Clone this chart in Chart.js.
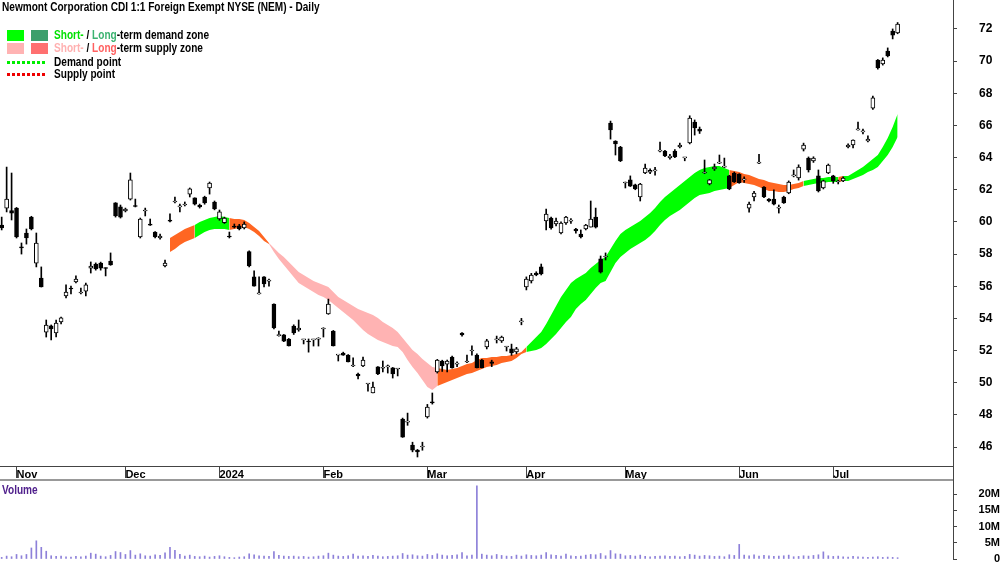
<!DOCTYPE html>
<html>
<head>
<meta charset="utf-8">
<script src="https://cdn.jsdelivr.net/npm/chart.js@4/dist/chart.umd.min.js"></script>
<style>
  body { margin: 0; background: #fff; }
  #wrap { position: relative; width: 1000px; height: 562px; overflow: hidden;
          font-family: 'Liberation Sans Narrow', 'Arial Narrow', 'Liberation Sans', Arial, sans-serif;
          font-weight: bold; font-size: 12px; line-height: 12px; color: #000; }
  #main { position: absolute; left: 0; top: 0; }
  #vol { position: absolute; left: 0; top: 480px; }
  .abs { position: absolute; white-space: nowrap; }
  .nar { transform: scaleX(0.84); transform-origin: 0 0; }
  .sw { position: absolute; width: 17px; height: 11px; }
  .dots { position: absolute; left: 7px; width: 38px; height: 3px; }
</style>
</head>
<body>
<div id="wrap">
  <canvas id="main" width="1000" height="480"></canvas>
  <canvas id="vol" width="1000" height="82"></canvas>

  <div class="abs nar" style="left:2px; top:1px;">Newmont Corporation CDI 1:1 Foreign Exempt NYSE (NEM) - Daily</div>

  <div class="sw" style="left:7px; top:30px; background:#00ff00;"></div>
  <div class="sw" style="left:31px; top:30px; background:#3c9f6c;"></div>
  <div class="abs nar" style="left:54px; top:29px;"><span style="color:#00e000">Short-</span> / <span style="color:#3cb371">Long</span>-term demand zone</div>

  <div class="sw" style="left:7px; top:43px; background:#ffb3b3;"></div>
  <div class="sw" style="left:31px; top:43px; background:#ff7070;"></div>
  <div class="abs nar" style="left:54px; top:42px;"><span style="color:#ffb0b0">Short-</span> / <span style="color:#ff6060">Long</span>-term supply zone</div>

  <div class="dots" style="top:61px; background:repeating-linear-gradient(90deg,#00ee00 0 3px,transparent 3px 5px);"></div>
  <div class="abs nar" style="left:54px; top:56px;">Demand point</div>
  <div class="dots" style="top:73px; background:repeating-linear-gradient(90deg,#ee0000 0 3px,transparent 3px 5px);"></div>
  <div class="abs nar" style="left:54px; top:68px;">Supply point</div>

  <div class="abs" style="left:0; top:479px; width:953px; height:0; border-top:2px solid #999;"></div>
  <div class="abs" style="left:953px; top:466px; width:1px; height:16px; background:#444;"></div>
  <div class="abs nar" style="left:2px; top:484px; color:#50208c;">Volume</div>
</div>

<script>
// daily candles, first bar 27 Oct 2023
const open = [
  59.81, 60.86, 60.70, 60.86, 58.40, 59.31, 60.30, 57.44, 56.51, 53.15,
  53.53, 53.09, 53.78, 55.39, 55.89, 56.26, 55.58, 55.70, 57.13, 57.38,
  57.44, 57.13, 57.57, 61.18, 60.93, 60.68, 61.42, 60.99, 59.06, 60.68,
  59.82, 59.37, 59.00, 57.26, 60.06, 61.24, 60.93, 61.05, 61.73, 61.49,
  61.05, 61.55, 62.11, 61.24, 60.18, 59.96, 59.12, 59.69, 59.75, 59.62,
  58.15, 56.58, 55.52, 56.58, 56.32, 54.89, 52.92, 52.97, 52.72, 53.52,
  53.28, 52.66, 52.55, 52.66, 52.70, 53.34, 54.27, 53.21, 51.72, 51.85,
  51.72, 51.04, 50.54, 51.04, 49.92, 49.36, 50.98, 50.90, 50.98, 50.92,
  50.85, 47.74, 47.55, 46.12, 45.81, 46.00, 47.87, 48.80, 50.67, 51.35,
  51.16, 51.60, 51.16, 53.09, 51.29, 51.97, 51.72, 51.41, 52.22, 51.30,
  52.66, 52.60, 52.22, 52.10, 51.91, 53.78, 55.95, 56.33, 56.82, 57.20,
  60.06, 60.24, 59.87, 59.31, 59.93, 60.05, 59.56, 59.25, 59.56, 59.68,
  60.30, 57.70, 57.82, 66.15, 65.03, 64.66, 62.42, 62.61, 62.30, 61.55,
  63.04, 63.10, 63.17, 64.40, 64.41, 63.98, 64.41, 64.66, 63.98, 64.91,
  66.21, 65.78, 63.04, 62.36, 63.29, 63.66, 63.41, 62.86, 63.04, 62.98,
  62.61, 60.86, 61.55, 63.66, 62.17, 61.42, 61.42, 60.86, 61.55, 61.80,
  62.86, 62.73, 64.53, 63.97, 63.79, 62.86, 62.11, 63.04, 62.86, 62.48,
  62.55, 64.66, 64.78, 65.72, 65.60, 65.03, 67.08, 70.07, 69.82, 70.63,
  71.87, 71.75
];
const high = [
  60.30, 63.41, 63.04, 60.90, 58.69, 59.56, 60.35, 59.31, 57.20, 53.90,
  53.59, 53.90, 54.08, 56.08, 56.01, 56.64, 55.89, 56.20, 57.51, 57.45,
  57.50, 57.15, 58.07, 61.20, 61.05, 60.86, 63.04, 61.42, 60.24, 60.86,
  60.18, 59.40, 59.25, 57.63, 60.50, 61.55, 61.11, 61.24, 62.11, 61.50,
  61.11, 61.60, 62.48, 61.30, 60.74, 60.30, 59.37, 59.87, 59.85, 60.00,
  58.20, 56.95, 56.58, 56.60, 56.45, 54.90, 53.21, 53.00, 52.75, 53.60,
  53.90, 52.70, 52.72, 52.70, 52.80, 53.42, 55.20, 53.25, 51.75, 51.90,
  51.75, 51.54, 50.60, 51.60, 49.95, 50.04, 51.00, 51.35, 51.10, 50.95,
  50.88, 47.80, 48.11, 46.30, 45.85, 46.30, 48.65, 49.36, 51.45, 51.40,
  51.41, 51.65, 51.30, 53.12, 51.72, 52.30, 51.80, 51.45, 52.70, 51.40,
  52.90, 52.90, 52.25, 52.40, 52.20, 54.00, 56.58, 56.80, 56.90, 57.38,
  60.80, 60.30, 60.24, 60.00, 60.35, 60.20, 59.60, 59.50, 59.85, 61.30,
  60.86, 57.88, 58.07, 66.27, 65.05, 64.70, 62.48, 62.86, 62.35, 62.40,
  63.60, 63.30, 63.40, 64.97, 64.45, 64.20, 64.50, 64.90, 64.00, 66.60,
  66.34, 65.90, 63.85, 62.65, 63.60, 64.16, 63.97, 62.90, 63.10, 63.00,
  62.80, 61.24, 61.90, 64.20, 62.20, 61.45, 62.00, 61.05, 61.60, 62.55,
  63.23, 63.55, 64.90, 64.04, 64.05, 63.23, 62.60, 63.60, 62.90, 62.60,
  62.80, 64.85, 65.10, 66.21, 65.78, 65.35, 67.83, 70.10, 70.20, 70.82,
  72.00, 72.40
];
const low = [
  59.50, 60.62, 60.12, 59.00, 58.00, 58.62, 59.50, 57.20, 55.95, 52.84,
  52.66, 52.84, 53.65, 55.27, 55.52, 56.20, 55.52, 55.39, 56.82, 57.00,
  57.00, 56.64, 57.30, 60.30, 60.24, 60.62, 61.36, 60.93, 59.00, 60.37,
  59.78, 59.00, 58.93, 57.20, 60.00, 61.18, 60.62, 60.99, 61.55, 61.05,
  60.86, 61.10, 61.73, 60.75, 60.10, 59.90, 59.00, 59.62, 59.50, 59.56,
  57.20, 56.00, 55.50, 55.95, 56.00, 53.35, 52.90, 52.55, 52.28, 53.00,
  53.20, 52.41, 51.90, 52.28, 52.28, 52.84, 54.25, 52.28, 51.35, 51.70,
  51.29, 51.00, 50.23, 51.00, 49.48, 49.36, 50.50, 50.67, 50.60, 50.29,
  50.42, 46.60, 47.35, 45.70, 45.38, 45.80, 47.80, 48.67, 50.60, 50.70,
  50.67, 50.90, 51.00, 52.90, 51.25, 51.72, 50.92, 50.92, 52.10, 51.00,
  52.47, 52.50, 51.97, 51.70, 51.80, 53.60, 55.77, 56.20, 56.65, 56.70,
  59.50, 59.55, 59.75, 59.25, 59.85, 59.90, 59.30, 59.00, 59.50, 59.68,
  59.62, 56.82, 57.63, 65.15, 64.16, 63.75, 62.11, 62.20, 62.00, 61.30,
  63.00, 63.00, 62.90, 64.35, 64.05, 63.90, 64.00, 64.60, 63.80, 64.85,
  65.40, 65.50, 63.00, 62.30, 63.20, 63.62, 63.38, 62.00, 62.45, 62.40,
  62.45, 60.60, 61.30, 63.62, 61.50, 61.25, 61.05, 60.55, 61.15, 61.75,
  62.80, 62.60, 64.41, 63.10, 63.70, 61.86, 62.05, 63.00, 62.40, 62.36,
  62.50, 64.60, 64.60, 65.70, 65.47, 64.97, 67.00, 69.50, 69.75, 70.26,
  71.38, 71.70
];
const close = [
  59.62, 61.42, 60.55, 59.06, 58.38, 59.00, 59.56, 58.69, 55.95, 53.59,
  53.34, 53.71, 54.03, 55.64, 55.83, 56.45, 55.58, 56.08, 57.26, 57.07,
  57.13, 57.10, 57.32, 60.37, 60.30, 60.80, 62.61, 60.96, 60.18, 60.68,
  59.80, 59.06, 59.12, 57.44, 60.05, 61.24, 60.93, 61.05, 62.05, 61.11,
  60.93, 61.18, 62.42, 60.80, 60.62, 60.24, 59.06, 59.68, 59.56, 59.87,
  57.26, 56.01, 55.52, 56.14, 56.32, 53.40, 53.00, 52.59, 52.28, 53.09,
  53.40, 52.66, 52.53, 52.66, 52.78, 53.40, 54.89, 52.28, 51.72, 51.72,
  51.29, 51.04, 50.42, 51.41, 49.92, 49.73, 50.54, 50.90, 50.98, 50.54,
  50.85, 46.62, 47.55, 45.81, 45.69, 46.00, 48.49, 48.75, 51.41, 51.04,
  51.35, 50.92, 51.16, 52.97, 51.29, 51.97, 50.92, 50.92, 52.60, 51.20,
  52.66, 52.84, 52.22, 51.85, 52.10, 53.78, 56.45, 56.70, 56.70, 56.76,
  60.49, 59.62, 60.05, 59.93, 60.30, 60.05, 59.44, 59.06, 59.81, 60.18,
  59.68, 56.88, 57.82, 65.72, 64.85, 63.79, 62.42, 62.23, 62.05, 62.36,
  63.35, 63.20, 63.17, 64.40, 64.10, 64.10, 64.04, 64.78, 63.98, 66.46,
  65.84, 65.65, 63.10, 62.61, 63.41, 63.66, 63.41, 62.05, 62.48, 62.42,
  62.61, 61.11, 61.80, 63.66, 61.55, 61.30, 61.11, 60.86, 61.18, 62.48,
  62.86, 63.41, 64.78, 63.23, 63.97, 61.92, 62.55, 63.54, 62.55, 62.48,
  62.73, 64.78, 65.09, 65.72, 65.60, 65.15, 67.71, 69.57, 70.07, 70.32,
  71.62, 72.31
];
// volume in millions
const volume = [
  0.5, 0.9, 0.7, 1.4, 1.0, 1.4, 3.4, 5.6, 3.6, 2.4,
  1.0, 0.8, 0.9, 0.7, 0.6, 0.8, 0.7, 0.9,
  1.8, 1.5, 0.9, 0.7, 1.1,
  2.3, 2.0, 1.4, 2.6, 1.2,
  1.6, 1.0, 0.9, 1.3, 1.1, 1.9,
  3.6, 2.7, 1.4,
  0.9, 1.2, 0.8, 0.7, 0.9, 0.6, 0.8, 1.0, 0.7, 0.5, 0.4, 0.6, 0.7,
  1.6, 1.3, 1.0, 0.9, 0.8, 2.3, 1.1, 0.9, 0.8, 0.9,
  0.7, 0.8, 0.6, 0.7, 0.9, 1.0, 1.8, 1.2, 0.9, 0.8,
  1.0, 1.5, 0.9, 1.0, 0.8, 1.1, 0.9, 0.7, 0.8, 0.9, 1.0,
  1.7, 1.2, 1.3, 1.0, 0.9, 1.4, 1.1, 1.6, 1.2, 1.0, 1.1, 1.3, 2.0, 1.0, 1.2,
  22.5,
  1.5, 1.2, 1.0, 1.4, 1.1, 0.9, 0.8, 1.2, 0.9, 1.3, 1.1, 1.0, 1.2,
  2.0, 1.3, 1.1, 0.9, 1.5, 1.0, 0.8, 0.9, 1.2, 1.4, 1.3, 1.7, 1.0,
  2.6, 1.6, 1.5, 1.0, 1.1, 0.9, 1.2, 0.8, 0.7, 0.8, 0.9, 1.0, 0.8,
  0.9, 0.7, 0.8, 1.4, 1.2, 0.9, 1.1, 1.0, 0.8, 0.9, 0.7, 1.3, 1.1,
  4.5,
  1.2, 1.0, 1.3, 0.9, 1.1, 1.0, 0.8, 0.9, 1.0, 1.2, 0.7, 0.8, 1.0, 0.9, 1.1, 1.3,
  2.2,
  1.0, 0.8, 0.9, 0.7, 0.6, 0.8, 0.7, 0.6, 0.5, 0.6, 0.7, 0.5, 0.6, 0.5, 0.4
];

// demand / supply band, starts at bar 34
const zoneStart = 34;
const zoneTop = [
  59.00, 59.19, 59.37, 59.56, 59.68, 59.81, 59.99, 60.12, 60.24, 60.31,
  60.37, 60.31, 60.24, 60.18, 60.18, 60.12, 59.93, 59.68, 59.43, 59.06,
  58.69, 58.38, 58.07, 57.82, 57.51, 57.20, 56.89, 56.70, 56.51, 56.32,
  56.20, 56.08, 55.95, 55.64, 55.33, 55.14, 54.96, 54.77, 54.58, 54.46,
  54.33, 54.21, 54.02, 53.78, 53.59, 53.40, 53.15, 52.78, 52.41, 52.03,
  51.79, 51.47, 51.23, 50.98, 50.91, 50.85, 50.79, 50.85, 50.91, 51.04,
  51.16, 51.23, 51.41, 51.54, 51.54, 51.60, 51.60, 51.66, 51.66, 51.72,
  51.79, 51.91, 52.22, 52.53, 52.84, 53.15, 53.65, 54.21, 54.77, 55.33,
  55.77, 56.20, 56.45, 56.64, 56.82, 57.13, 57.38, 57.63, 57.82, 58.32,
  58.81, 59.25, 59.50, 59.68, 59.87, 60.06, 60.31, 60.55, 60.87, 61.24,
  61.55, 61.80, 62.05, 62.30, 62.54, 62.79, 63.04, 63.23, 63.35, 63.41,
  63.48, 63.48, 63.35, 63.23, 63.17, 63.10, 62.98, 62.92, 62.79, 62.67,
  62.61, 62.48, 62.42, 62.36, 62.30, 62.30, 62.36, 62.42, 62.54, 62.61,
  62.67, 62.73, 62.73, 62.79, 62.79, 62.79, 62.85, 62.85, 63.04, 63.23,
  63.41, 63.66, 63.91, 64.16, 64.66, 65.22, 65.90, 66.71
];
const zoneBottom = [
  58.13, 58.32, 58.56, 58.75, 58.87, 59.00, 59.19, 59.37, 59.50, 59.56,
  59.56, 59.56, 59.50, 59.56, 59.62, 59.68, 59.56, 59.37, 59.12, 58.81,
  58.63, 58.13, 57.69, 57.32, 56.95, 56.57, 56.20, 56.01, 55.83, 55.64,
  55.45, 55.33, 55.14, 54.89, 54.65, 54.40, 54.15, 53.90, 53.59, 53.28,
  53.03, 52.84, 52.66, 52.53, 52.41, 52.28, 52.22, 51.91, 51.41, 50.98,
  50.60, 50.17, 49.73, 49.55, 49.80, 49.92, 50.04, 50.17, 50.29, 50.42,
  50.54, 50.60, 50.73, 50.85, 50.98, 51.04, 51.10, 51.23, 51.29, 51.35,
  51.54, 51.79, 51.91, 51.97, 52.03, 52.16, 52.41, 52.72, 53.03, 53.40,
  53.78, 54.09, 54.58, 54.89, 55.14, 55.52, 55.89, 56.20, 56.32, 56.89,
  57.44, 57.82, 58.07, 58.32, 58.50, 58.69, 58.87, 59.12, 59.43, 59.81,
  60.12, 60.37, 60.55, 60.74, 60.99, 61.24, 61.49, 61.67, 61.74, 61.80,
  61.92, 61.98, 62.05, 62.11, 62.30, 62.48, 62.42, 62.36, 62.30, 62.17,
  62.05, 61.92, 61.92, 61.86, 61.86, 61.92, 62.05, 62.11, 62.23, 62.30,
  62.36, 62.42, 62.42, 62.48, 62.48, 62.48, 62.54, 62.54, 62.67, 62.79,
  62.92, 63.10, 63.23, 63.41, 63.79, 64.16, 64.66, 65.28
];
// bar index where each zone kind begins
const zoneRuns = [
  [34, 'mixed'], [39, 'demand'], [46, 'mixed'], [54, 'supply'], [88, 'mixed'],
  [106, 'demand'], [147, 'mixed'], [162, 'demand'], [169, 'mixed'], [170, 'demand']
];
const zoneColors = { demand: '#00ff00', supply: '#ffb3b3', mixed: '#ff6622' };

const priceTicks = [46, 48, 50, 52, 54, 56, 58, 60, 62, 64, 66, 68, 70, 72];
const volumeTicks = [0, 5, 10, 15, 20];
const monthNames = ['Jan', 'Feb', 'Mar', 'Apr', 'May', 'Jun', 'Jul', 'Aug', 'Sep', 'Oct', 'Nov', 'Dec'];
const asxClosed = ['2023-12-25', '2023-12-26', '2024-01-01', '2024-01-26',
                   '2024-03-29', '2024-04-01', '2024-04-25', '2024-06-10'];

function tradingDays(first, count, closed) {
  const out = [];
  const d = new Date(first + 'T00:00:00Z');
  while (out.length < count) {
    const iso = d.toISOString().slice(0, 10);
    const wd = d.getUTCDay();
    if (wd !== 0 && wd !== 6 && !closed.includes(iso)) out.push(iso);
    d.setUTCDate(d.getUTCDate() + 1);
  }
  return out;
}

const dates = tradingDays('2023-10-27', open.length, asxClosed);
const days = dates.map((d, i) => i);

const monthTicks = [];
for (let i = 1; i < dates.length; i++) {
  if (dates[i].slice(5, 7) !== dates[i - 1].slice(5, 7)) monthTicks.push(i);
}
function monthLabel(i) {
  const m = +dates[i].slice(5, 7);
  return m === 1 ? dates[i].slice(0, 4) : monthNames[m - 1];
}
function zoneKind(i) {
  let kind = zoneRuns[0][1];
  zoneRuns.forEach(r => { if (i >= r[0]) kind = r[1]; });
  return kind;
}

const xMin = -0.34, xMax = 192.19;
const axisFont = { family: "'Liberation Sans Narrow','Arial Narrow','Liberation Sans',Arial,sans-serif", size: 12, weight: 'bold' };
const axisColor = '#444';

new Chart(document.getElementById('main'), {
  type: 'bar',
  data: {
    datasets: [
      {
        type: 'line',
        data: zoneTop.map((v, k) => ({ x: zoneStart + k, y: v })),
        borderWidth: 0, pointRadius: 0, tension: 0,
        fill: '+1',
        backgroundColor: zoneColors.mixed,
        segment: { backgroundColor: c => zoneColors[zoneKind(c.p0.parsed.x)] },
        order: 3
      },
      {
        type: 'line',
        data: zoneBottom.map((v, k) => ({ x: zoneStart + k, y: v })),
        borderWidth: 0, pointRadius: 0, tension: 0, fill: false,
        order: 3
      },
      {
        data: days.map(i => ({ x: i, y: [low[i], high[i]] })),
        backgroundColor: '#000', barThickness: 1, grouped: false,
        order: 2
      },
      {
        data: days.map(i => ({ x: i, y: [open[i], close[i]] })),
        backgroundColor: days.map(i => close[i] >= open[i] ? '#fff' : '#000'),
        borderColor: '#000', borderWidth: 1, borderSkipped: false,
        barThickness: 4, minBarLength: 1, grouped: false,
        order: 1
      }
    ]
  },
  options: {
    responsive: false,
    animation: false,
    layout: { padding: 0 },
    plugins: { legend: { display: false }, tooltip: { enabled: false } },
    scales: {
      x: {
        type: 'linear', min: xMin, max: xMax, offset: false, bounds: 'data',
        afterBuildTicks: s => { s.ticks = monthTicks.map(i => ({ value: i })); },
        afterFit: s => { s.height = 14; s.paddingLeft = 0; s.paddingRight = 0; },
        ticks: { callback: v => monthLabel(v), autoSkip: false, maxRotation: 0, minRotation: 0,
                 align: 'start', padding: -10, font: { ...axisFont, size: 11 }, color: '#000' },
        grid: { drawOnChartArea: false, drawTicks: true, tickLength: 12, color: axisColor, offset: false },
        border: { display: true, color: axisColor }
      },
      y: {
        position: 'right', min: 44.82, max: 73.80, bounds: 'data',
        afterBuildTicks: s => { s.ticks = priceTicks.map(v => ({ value: v })); },
        afterFit: s => { s.width = 47; s.paddingTop = 0; s.paddingBottom = 0; },
        ticks: { callback: v => String(v), autoSkip: false, padding: 22, font: axisFont, color: '#000' },
        grid: { drawOnChartArea: false, tickLength: 4, color: axisColor },
        border: { display: true, color: axisColor }
      }
    }
  }
});

new Chart(document.getElementById('vol'), {
  type: 'bar',
  data: {
    datasets: [{
      data: days.map(i => ({ x: i, y: volume[i] })),
      backgroundColor: '#8d80d9', barThickness: 1, grouped: false
    }]
  },
  options: {
    responsive: false,
    animation: false,
    layout: { padding: { top: 2, bottom: 3, left: 0, right: 0 } },
    plugins: { legend: { display: false }, tooltip: { enabled: false } },
    scales: {
      x: { type: 'linear', min: xMin, max: xMax, offset: false, bounds: 'data', display: false },
      y: {
        position: 'right', min: 0, max: 23.7, bounds: 'data',
        afterBuildTicks: s => { s.ticks = volumeTicks.map(v => ({ value: v })); },
        afterFit: s => { s.width = 47; s.paddingTop = 0; s.paddingBottom = 0; },
        ticks: { callback: v => v === 0 ? '0' : v + 'M', autoSkip: false, crossAlign: 'far', padding: 22,
                 font: { ...axisFont, size: 11 }, color: '#000' },
        grid: { drawOnChartArea: false, tickLength: 4, color: axisColor },
        border: { display: true, color: axisColor }
      }
    }
  }
});
</script>
</body>
</html>
